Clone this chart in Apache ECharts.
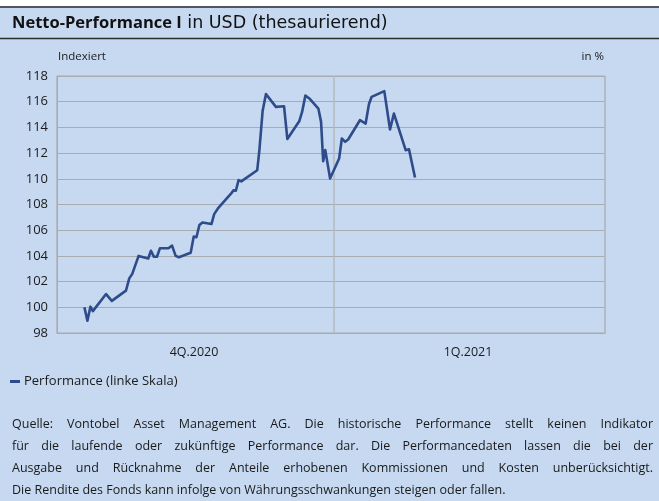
<!DOCTYPE html>
<html><head><meta charset="utf-8">
<script src="https://cdn.jsdelivr.net/npm/echarts@6/dist/echarts.min.js"></script>
<style>html,body{margin:0;padding:0;background:#fff}#c{width:659px;height:501px}</style>
</head><body><div id="c"></div><script>
// Days counted from 1 Oct 2020 (4Q.2020 = day 0..92, 1Q.2021 = day 92..182)
const quarterLabels = ['4Q.2020', '1Q.2021'];
const days = [9.1, 10.1, 11.1, 11.9, 16.3, 16.9, 18.2, 22.9, 24.0, 25.0, 27.1, 30.3, 31.2, 32.2, 33.2, 34.2, 37.0, 38.2, 39.4, 40.5,
  44.4, 45.4, 46.3, 47.3, 48.3, 51.3, 52.2, 53.6, 58.0, 58.6, 59.4, 60.3, 61.2, 66.5, 67.2, 68.3, 69.4, 72.7, 75.4, 76.5,
  80.5, 81.4, 82.5, 83.8, 86.8, 87.7, 88.4, 89.1, 90.7, 93.7, 94.6, 95.7, 96.7, 100.6, 102.5, 103.6, 104.5, 108.7, 110.6, 111.9,
  115.8, 116.9, 118.9];
const values = [100.0, 98.95, 100.05, 99.7, 101.03, 100.95, 100.5, 101.3, 102.25, 102.6, 104.0, 103.8, 104.4, 103.93, 103.93, 104.6, 104.6, 104.8, 104.0, 103.9,
  104.25, 105.5, 105.45, 106.4, 106.6, 106.48, 107.25, 107.74, 108.9, 109.1, 109.07, 109.9, 109.8, 110.67, 112.2, 115.3, 116.6, 115.6, 115.65, 113.1,
  114.5, 115.2, 116.48, 116.25, 115.47, 114.43, 111.37, 112.23, 110.03, 111.58, 113.14, 112.88, 113.06, 114.56, 114.3, 115.8, 116.38, 116.82, 113.84, 115.08,
  112.23, 112.3, 110.1];
const seriesName = 'Performance (linke Skala)';
const titleBold = 'Netto-Performance I';
const titleRest = ' in USD (thesaurierend)';
const leftUnit = 'Indexiert';
const rightUnit = 'in %';
const footerLines = [
  'Quelle: Vontobel Asset Management AG. Die historische Performance stellt keinen Indikator',
  'für die laufende oder zukünftige Performance dar. Die Performancedaten lassen die bei der',
  'Ausgabe und Rücknahme der Anteile erhobenen Kommissionen und Kosten unberücksichtigt.',
  'Die Rendite des Fonds kann infolge von Währungsschwankungen steigen oder fallen.'
];

const FONT = '"Open Sans", "DejaVu Sans", sans-serif';
const FONT2 = '"DejaVu Sans", sans-serif';
const BG = '#C6D9F1';
const LINE = '#2E4C8A';
const GRID = '#A8ABB0';

const footerFont = '12.5px ' + FONT;
const ctx = document.createElement('canvas').getContext('2d');
ctx.font = footerFont;
const footerGraphics = [];
const fLeft = 12, fRight = 653;
footerLines.forEach((line, i) => {
  const y = 424 + i * 22;
  const justify = i < footerLines.length - 1;
  if (!justify) {
    footerGraphics.push({type: 'text', x: fLeft, y: y, style: {text: line, font: footerFont, fill: '#1a1a1a', verticalAlign: 'middle'}});
    return;
  }
  const words = line.split(' ');
  const widths = words.map(w => ctx.measureText(w).width);
  const total = widths.reduce((a, b) => a + b, 0);
  const gap = (fRight - fLeft - total) / (words.length - 1);
  let x = fLeft;
  words.forEach((w, k) => {
    footerGraphics.push({type: 'text', x: x, y: y, style: {text: w, font: footerFont, fill: '#1a1a1a', verticalAlign: 'middle'}});
    x += widths[k] + gap;
  });
});

const chart = echarts.init(document.getElementById('c'), null, {renderer: 'canvas'});
chart.setOption({
  backgroundColor: BG,
  animation: false,
  grid: {left: 57, right: 54, top: 76, bottom: 168, show: true, borderColor: GRID, borderWidth: 1, backgroundColor: 'transparent'},
  xAxis: [{
    type: 'value', min: 0, max: 182, interval: 92,
    axisLine: {show: true, lineStyle: {color: GRID}}, axisTick: {show: false}, axisLabel: {show: false},
    splitLine: {show: true, lineStyle: {color: '#B4B8C0', width: 1.5}}
  }, {
    type: 'category', data: quarterLabels, position: 'bottom', boundaryGap: true,
    axisLine: {show: false}, axisTick: {show: false}, splitLine: {show: false},
    axisLabel: {color: '#1a1a1a', fontSize: 12.5, fontFamily: FONT, margin: 13}
  }],
  yAxis: {
    type: 'value', min: 98, max: 118, interval: 2,
    axisLine: {show: true, lineStyle: {color: GRID}}, axisTick: {show: false},
    axisLabel: {color: '#1a1a1a', fontSize: 13, fontFamily: FONT, margin: 9},
    splitLine: {show: true, lineStyle: {color: GRID, width: 1}}
  },
  legend: {
    show: true, left: 10, top: 375, padding: 0, icon: 'rect', itemWidth: 10, itemHeight: 3, itemGap: 6,
    textStyle: {color: '#1a1a1a', fontSize: 13, fontFamily: FONT, padding: [0, 0, 0, -1]},
    data: [seriesName]
  },
  series: [{
    name: seriesName, type: 'line', xAxisIndex: 0,
    data: days.map((d, i) => [d, values[i]]),
    showSymbol: false, symbol: 'none',
    lineStyle: {color: LINE, width: 2.6, join: 'round'}, itemStyle: {color: LINE}
  }],
  graphic: [
    {type: 'rect', shape: {x: 0, y: 0, width: 659, height: 6}, style: {fill: '#ffffff'}, silent: true},
    {type: 'line', shape: {x1: 0, y1: 7, x2: 659, y2: 7}, style: {stroke: '#2b2b2b', lineWidth: 1.5}},
    {type: 'line', shape: {x1: 0, y1: 38.5, x2: 659, y2: 38.5}, style: {stroke: '#2b2b2b', lineWidth: 1.5}},
    {type: 'text', x: 12, y: 23, style: {
      text: '{b|' + titleBold + '}{r|' + titleRest + '}', font: '16.5px ' + FONT, fill: '#111', verticalAlign: 'middle',
      rich: {
        b: {fontWeight: 'bold', fontSize: 16.5, fontFamily: FONT, fill: '#111'},
        r: {fontSize: 17.5, fontFamily: FONT2, fill: '#111'}
      }
    }},
    {type: 'text', x: 58, y: 57, style: {text: leftUnit, font: '11.5px ' + FONT, fill: '#1a1a1a', verticalAlign: 'middle'}},
    {type: 'text', x: 604, y: 57, style: {text: rightUnit, font: '11.5px ' + FONT, fill: '#1a1a1a', verticalAlign: 'middle', align: 'right'}}
  ].concat(footerGraphics)
});
</script></body></html>
